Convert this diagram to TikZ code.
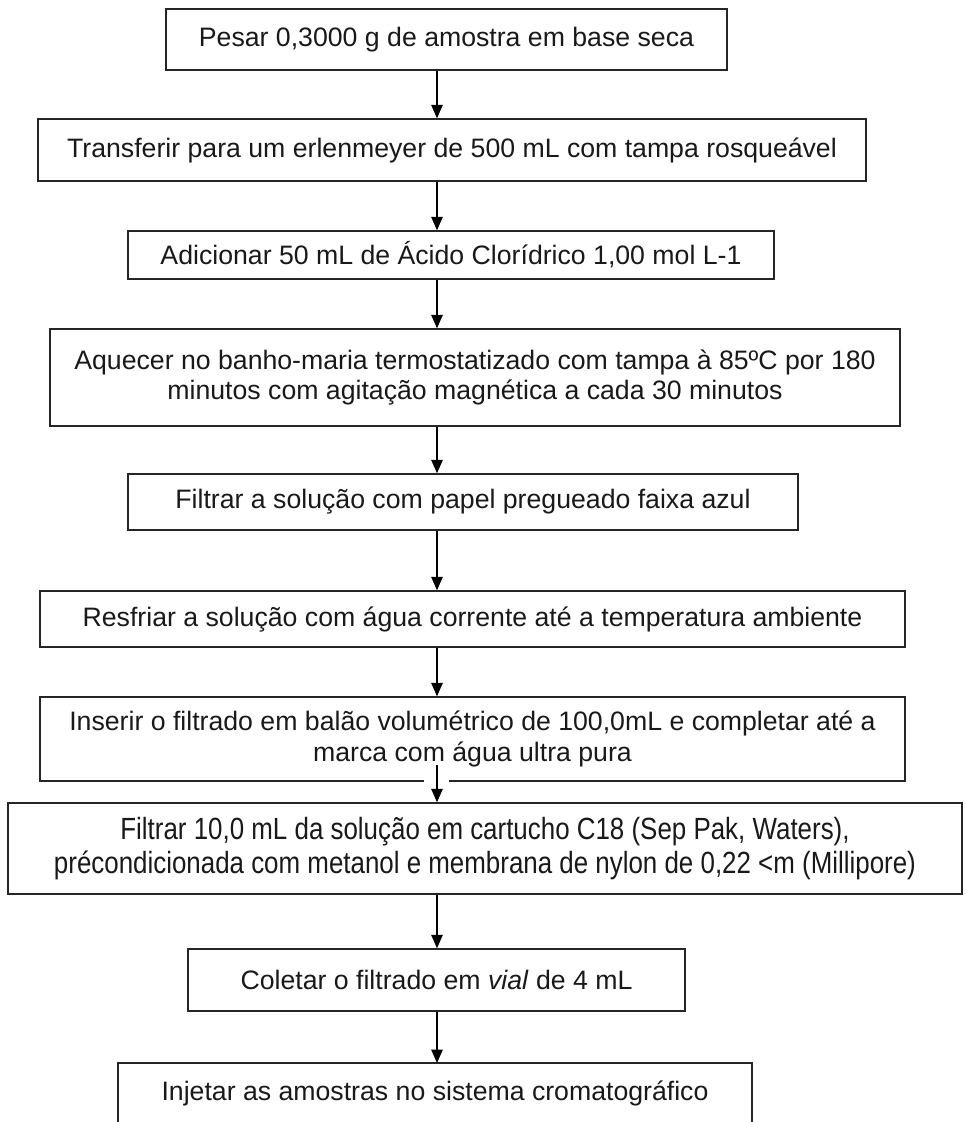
\documentclass[tikz,border=0pt]{standalone}
\usepackage{fontspec}
\setmainfont{Liberation Sans}
\newfontfamily\narrowsans{Liberation Sans}[FakeStretch=0.845]
\usetikzlibrary{arrows.meta}
\tikzset{
  box/.style={draw=black!85, line width=1.1pt, inner sep=0pt, align=center, text=black!90,
    font=\fontsize{20}{23}\selectfont},
  txt/.style={inner sep=0pt, align=center, text=black!90, font=\fontsize{20}{23}\selectfont},
  arr/.style={draw=black, line width=1.1pt, -{Triangle[length=10pt,width=8.5pt]}},
  edge/.style={draw=black!85, line width=1.1pt}
}
\begin{document}
\begin{tikzpicture}[x=0.75pt,y=-0.75pt]
\useasboundingbox (0,0) rectangle (966,1122);
\coordinate (ax) at (437,0);
\node[box, minimum width=420.75pt, minimum height=45.75pt] (b1) at (446.5,39.5) {Pesar 0,3000 g de amostra em base seca};
\node[box, minimum width=621pt, minimum height=46.5pt] (b2) at (452,150) {Transferir para um erlenmeyer de 500 mL com tampa rosqueável};
\node[box, minimum width=484.5pt, minimum height=36pt] (b3) at (451,255) {Adicionar 50 mL de Ácido Clorídrico 1,00 mol L-1};
\node[box, minimum width=637.5pt, minimum height=72.75pt] (b4) at (475,377.5) {Aquecer no banho-maria termostatizado com tampa à 85ºC por 180\\minutos com agitação magnética a cada 30 minutos};
\node[box, minimum width=502.5pt, minimum height=42pt] (b5) at (463,502) {Filtrar a solução com papel pregueado faixa azul};
\node[box, minimum width=648.75pt, minimum height=42pt] (b6) at (472.5,619) {Resfriar a solução com água corrente até a temperatura ambiente};
\node[box, minimum width=648.75pt, minimum height=63pt] (b7) at (472.5,739) {Inserir o filtrado em balão volumétrico de 100,0mL e completar até a\\marca com água ultra pura};
\node[box, minimum width=715.5pt, minimum height=68.25pt, font=\narrowsans\fontsize{23}{25.5}\selectfont] (b8) at (485,848.5) {Filtrar 10,0 mL da solução em cartucho C18 (Sep Pak, Waters),\\précondicionada com metanol e membrana de nylon de 0,22 <m (Millipore)};
\node[box, minimum width=372.75pt, minimum height=46.5pt] (b9) at (436.5,980) {Coletar o filtrado em \textit{vial} de 4 mL};
\draw[edge] (118,1124) -- (118,1063) -- (752,1063) -- (752,1124);
\node[txt] (b10) at (435,1093) {Injetar as amostras no sistema cromatográfico};
\coordinate (t10) at (437,1063);
\coordinate (s7) at (437,765);
\draw[arr] (b1.south -| ax) -- (b2.north -| ax);
\draw[arr] (b2.south -| ax) -- (b3.north -| ax);
\draw[arr] (b3.south -| ax) -- (b4.north -| ax);
\draw[arr] (b4.south -| ax) -- (b5.north -| ax);
\draw[arr] (b5.south -| ax) -- (b6.north -| ax);
\draw[arr] (b6.south -| ax) -- (b7.north -| ax);
\draw[white, line width=1.6pt] (424,781) -- (449,781);
\draw[arr] (s7) -- (b8.north -| ax);
\draw[arr] (b8.south -| ax) -- (b9.north -| ax);
\draw[arr] (b9.south -| ax) -- (t10);
\end{tikzpicture}
\end{document}
